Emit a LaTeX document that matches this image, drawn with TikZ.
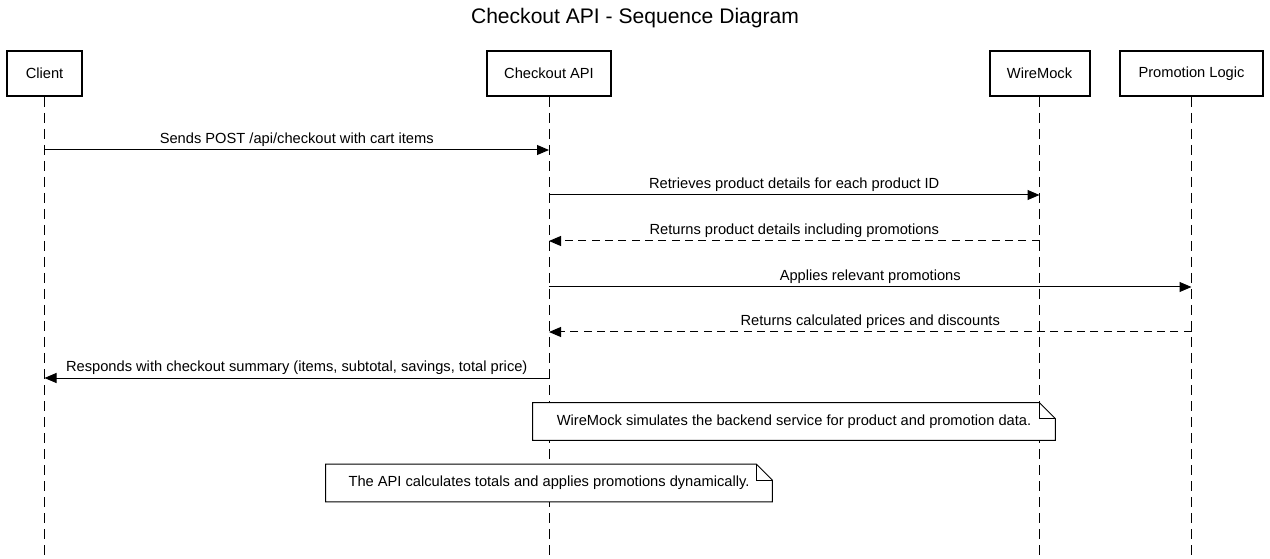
\documentclass[tikz,border=0pt]{standalone}
\usepackage{fontspec}
\setmainfont{Liberation Sans}
\usetikzlibrary{arrows.meta,calc}

\tikzset{
  actor/.style={draw, line width=1.5pt, minimum height=33.75pt, inner sep=0pt, font=\fontsize{11}{13}\selectfont},
  life/.style={line width=0.75pt, dash pattern=on 7.5pt off 4.5pt},
  msg/.style={line width=0.75pt, -{Triangle[length=9pt,width=7.5pt]}},
  reply/.style={msg, dash pattern=on 6pt off 4pt},
  lbl/.style={above, inner sep=2.3pt, font=\fontsize{11}{13}\selectfont},
  notebox/.style={fill=white, inner sep=0pt, minimum height=28pt, font=\fontsize{11}{13}\selectfont},
}

\begin{document}
\begin{tikzpicture}[x=0.75pt, y=-0.75pt]
        \useasboundingbox (0,0) rectangle (1270,559) ;
        \fill[white] (0,0) rectangle (1270,559) ;

        \node[font=\fontsize{15.8}{18}\selectfont] (title) at (635,18) {Checkout API - Sequence Diagram} ;

        % participants
        \node[actor, minimum width=56.25pt] (client) at (44.5,73.5) {Client} ;
        \node[actor, minimum width=93pt] (api) at (549,73.5) {Checkout API} ;
        \node[actor, minimum width=75pt] (wire) at (1039.5,73.5) {WireMock} ;
        \node[actor, minimum width=107.25pt] (promo) at (1191.5,73.5) {Promotion Logic} ;

        % lifelines
        \coordinate (bottom) at (0,559) ;
        \draw[life] (client.south) -- (client.south |- bottom) ;
        \draw[life] (api.south) -- (api.south |- bottom) ;
        \draw[life] (wire.south) -- (wire.south |- bottom) ;
        \draw[life] (promo.south) -- (promo.south |- bottom) ;

        % messages
        \coordinate (m1) at (0,150) ;
        \coordinate (m2) at (0,195) ;
        \coordinate (m3) at (0,241) ;
        \coordinate (m4) at (0,287) ;
        \coordinate (m5) at (0,332) ;
        \coordinate (m6) at (0,378) ;

        \draw[msg] (client |- m1) -- node[lbl] {Sends POST /api/checkout with cart items} (api |- m1) ;
        \draw[msg] (api |- m2) -- node[lbl] {Retrieves product details for each product ID} (wire |- m2) ;
        \draw[reply] (wire |- m3) -- node[lbl] {Returns product details including promotions} (api |- m3) ;
        \draw[msg] (api |- m4) -- node[lbl] {Applies relevant promotions} (promo |- m4) ;
        \draw[reply] (promo |- m5) -- node[lbl] {Returns calculated prices and discounts} (api |- m5) ;
        \draw[msg] (api |- m6) -- node[lbl] {Responds with checkout summary (items, subtotal, savings, total price)} (client |- m6) ;

        % notes
        \node[notebox, minimum width=391.5pt] (note1) at (794,421.5) {WireMock simulates the backend service for product and promotion data.} ;
        \draw[line width=0.75pt] (note1.north west) -- ([xshift=-12pt]note1.north east) -- ([yshift=-12pt]note1.north east) -- (note1.south east) -- (note1.south west) -- cycle ;
        \draw[line width=0.75pt] ([xshift=-12pt]note1.north east) -- ([xshift=-12pt,yshift=-12pt]note1.north east) -- ([yshift=-12pt]note1.north east) ;

        \node[notebox, minimum width=334.5pt] (note2) at (549,483) {The API calculates totals and applies promotions dynamically.} ;
        \draw[line width=0.75pt] (note2.north west) -- ([xshift=-12pt]note2.north east) -- ([yshift=-12pt]note2.north east) -- (note2.south east) -- (note2.south west) -- cycle ;
        \draw[line width=0.75pt] ([xshift=-12pt]note2.north east) -- ([xshift=-12pt,yshift=-12pt]note2.north east) -- ([yshift=-12pt]note2.north east) ;

    \end{tikzpicture}
\end{document}
